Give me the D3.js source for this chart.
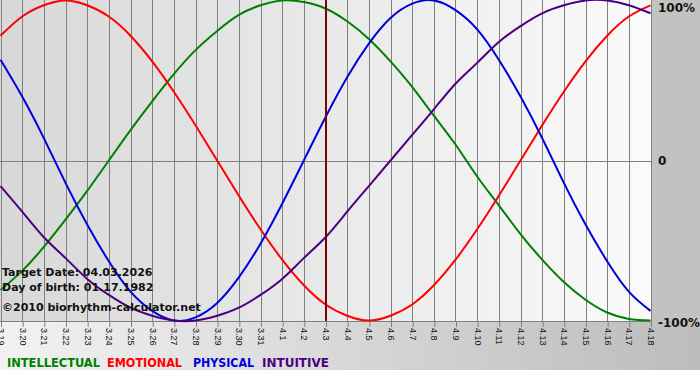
<!DOCTYPE html>
<html lang="en">
<head>
    <meta charset="UTF-8">
    <title>Biorhythm</title>
    <script src="https://d3js.org/d3.v7.min.js"></script>
    <style>
        body { margin: 0; background: #fff; }
        #chart { width: 700px; height: 380px; }
    </style>
</head>
<body>
    <div id="chart"></div>

    <script>
        // Day labels, 3.19 to 4.18
        const days = ["3.19", "3.20", "3.21", "3.22", "3.23", "3.24", "3.25", "3.26", "3.27", "3.28",
            "3.29", "3.30", "3.31", "4.1", "4.2", "4.3", "4.4", "4.5", "4.6", "4.7", "4.8", "4.9",
            "4.10", "4.11", "4.12", "4.13", "4.14", "4.15", "4.16", "4.17", "4.18"];

        // Values, one per day (-1 .. 1)
        const intellectual = [-0.81, -0.69, -0.54, -0.37, -0.19, 0, 0.19, 0.37, 0.54, 0.69, 0.81,
            0.91, 0.97, 1.00, 0.99, 0.95, 0.87, 0.76, 0.62, 0.46, 0.28, 0.10, -0.10, -0.28, -0.46,
            -0.62, -0.76, -0.87, -0.95, -0.99, -1.00];
        const emotional = [0.78, 0.90, 0.97, 1.00, 0.97, 0.90, 0.78, 0.62, 0.43, 0.22, 0, -0.22,
            -0.43, -0.62, -0.78, -0.90, -0.97, -1.00, -0.97, -0.90, -0.78, -0.62, -0.43, -0.22, 0,
            0.22, 0.43, 0.62, 0.78, 0.90, 0.97];
        const physical = [0.63, 0.40, 0.14, -0.14, -0.40, -0.63, -0.82, -0.94, -1.00, -0.98, -0.89,
            -0.73, -0.52, -0.27, 0, 0.27, 0.52, 0.73, 0.89, 0.98, 1.00, 0.94, 0.82, 0.63, 0.40, 0.14,
            -0.14, -0.40, -0.63, -0.82, -0.94];
        const intuitive = [-0.16, -0.32, -0.48, -0.61, -0.74, -0.84, -0.92, -0.97, -1.00, -1.00,
            -0.97, -0.92, -0.84, -0.74, -0.61, -0.48, -0.32, -0.16, 0, 0.16, 0.32, 0.48, 0.61, 0.74,
            0.84, 0.92, 0.97, 1.00, 1.00, 0.97, 0.92];

        const targetDay = "4.3";
        const yLabels = ["-100%", "0", "100%"];
        const infoLines = ["Target Date: 04.03.2026", "Day of birth: 01.17.1982", "\u00a92010 biorhythm-calculator.net"];
        const legend = ["INTELLECTUAL", "EMOTIONAL", "PHYSICAL", "INTUITIVE"];

        const series = [
            { name: "INTELLECTUAL", values: intellectual, color: "#008000" },
            { name: "EMOTIONAL", values: emotional, color: "#ff0000" },
            { name: "PHYSICAL", values: physical, color: "#0000dd" },
            { name: "INTUITIVE", values: intuitive, color: "#4b0082" }
        ];

        const width = 700, height = 380;
        const plotW = 651, plotH = 321;

        const svg = d3.select("#chart")
            .append("svg")
            .attr("width", width)
            .attr("height", height)
            .style("font-family", "'DejaVu Sans', Verdana, sans-serif");

        const defs = svg.append("defs");
        const outer = defs.append("linearGradient").attr("id", "outerGrad");
        outer.append("stop").attr("offset", "0%").attr("stop-color", "#f2f2f2");
        outer.append("stop").attr("offset", "100%").attr("stop-color", "#bcbcbc");
        const inner = defs.append("linearGradient").attr("id", "plotGrad");
        inner.append("stop").attr("offset", "0%").attr("stop-color", "#d8d8d8");
        inner.append("stop").attr("offset", "100%").attr("stop-color", "#fafafa");

        svg.append("rect").attr("width", width).attr("height", 370).attr("fill", "url(#outerGrad)");
        svg.append("rect").attr("x", plotW).attr("width", width - plotW).attr("height", plotH).attr("fill", "#c2c2c2");
        svg.append("rect").attr("width", plotW).attr("height", plotH).attr("fill", "url(#plotGrad)");

        const x = d3.scaleLinear().domain([0, days.length - 1]).range([0.5, 650.5]);
        const y = d3.scaleLinear().domain([-1, 1]).range([320.5, 0.5]);

        // vertical grid, one per day
        svg.append("g")
            .selectAll("line")
            .data(days)
            .join("line")
            .attr("x1", (d, i) => Math.round(x(i)) + 0.5)
            .attr("x2", (d, i) => Math.round(x(i)) + 0.5)
            .attr("y1", 0)
            .attr("y2", plotH)
            .attr("stroke", "#808080");

        // zero line
        svg.append("line")
            .attr("x1", 0).attr("x2", plotW)
            .attr("y1", Math.round(y(0)) + 0.5).attr("y2", Math.round(y(0)) + 0.5)
            .attr("stroke", "#808080");

        // x axis with rotated day labels
        const axis = svg.append("g")
            .attr("transform", `translate(0,${plotH})`)
            .call(d3.axisBottom(x)
                .tickValues(d3.range(days.length))
                .tickFormat(i => days[i])
                .tickSize(6)
                .tickSizeOuter(0));
        axis.select(".domain").attr("stroke", "#808080").attr("d", `M0,0.5H${plotW}`);
        axis.selectAll(".tick line").attr("stroke", "#808080")
            .attr("transform", "translate(0.5,0)");
        axis.selectAll(".tick text")
            .attr("transform", "rotate(90)")
            .attr("x", 7)
            .attr("y", 0)
            .attr("dy", "0.35em")
            .attr("text-anchor", "start")
            .attr("fill", "#111")
            .style("font-family", "'Liberation Sans', Arial, sans-serif")
            .style("font-size", "9px");

        // curves
        const line = d3.line()
            .x((d, i) => x(i))
            .y(d => y(d))
            .curve(d3.curveNatural);

        svg.append("g")
            .selectAll("path")
            .data(series)
            .join("path")
            .attr("d", d => line(d.values))
            .attr("fill", "none")
            .attr("stroke", d => d.color)
            .attr("stroke-width", 2);

        // target date marker
        const ti = days.indexOf(targetDay);
        svg.append("line")
            .attr("x1", Math.round(x(ti))).attr("x2", Math.round(x(ti)))
            .attr("y1", 0).attr("y2", plotH)
            .attr("stroke", "#800000")
            .attr("stroke-width", 2);

        // y labels
        const yPos = { "-100%": -1, "0": 0, "100%": 1 };
        svg.append("g")
            .selectAll("text")
            .data(yLabels)
            .join("text")
            .attr("x", 658)
            .attr("y", d => y(yPos[d]))
            .attr("dy", d => d === "100%" ? "0.95em" : (d === "0" ? "0.4em" : "0.5em"))
            .attr("font-size", "12px")
            .attr("font-weight", "bold")
            .attr("fill", "#111")
            .text(d => d);

        // info text
        svg.append("g")
            .selectAll("text")
            .data(infoLines)
            .join("text")
            .attr("x", 2)
            .attr("y", (d, i) => [276, 291, 311][i])
            .attr("font-size", "11px")
            .attr("font-weight", "bold")
            .attr("fill", "#111")
            .text(d => d);

        // legend
        const legendX = [7, 107, 193, 262];
        const legendW = [93, 75, 61, 67];
        svg.append("g")
            .selectAll("text")
            .data(legend)
            .join("text")
            .attr("x", (d, i) => legendX[i])
            .attr("y", 367)
            .attr("textLength", (d, i) => legendW[i])
            .attr("lengthAdjust", "spacingAndGlyphs")
            .attr("font-size", "13px")
            .attr("font-weight", "bold")
            .style("font-family", "'DejaVu Sans Condensed', 'DejaVu Sans', sans-serif")
            .attr("fill", d => series.find(s => s.name === d).color)
            .text(d => d);
    </script>
</body>
</html>
